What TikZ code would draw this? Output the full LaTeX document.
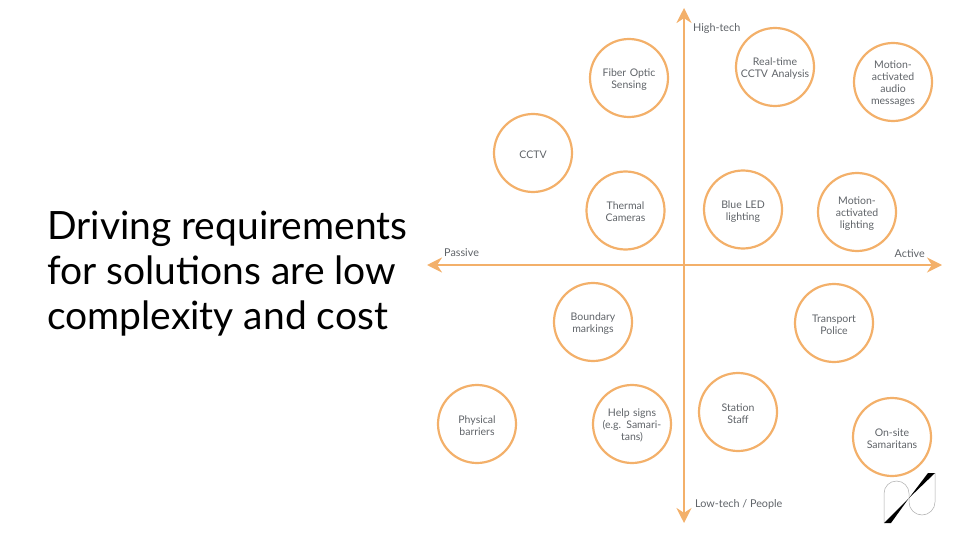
\documentclass[tikz,border=0pt]{standalone}
\usepackage{fontspec}
\setmainfont{Lato}
\usepackage{tikz}
\usetikzlibrary{arrows.meta, positioning}
\definecolor{brandorange}{RGB}{243, 176, 106}
\definecolor{labelgray}{RGB}{95, 99, 104}
\definecolor{logogray}{RGB}{170, 170, 170}

\begin{document}
\begin{tikzpicture}[
        x=1pt, y=-1pt,
        idea/.style={circle, draw=brandorange, line width=2.2pt, minimum size=78pt, inner sep=-8pt, text width=72pt, align=center, text=labelgray, font=\fontsize{10.5}{12}\selectfont, execute at begin node={\vskip -1pt}},
        axis/.style={-{Stealth[length=15pt, width=15pt]}, line width=2.2pt, draw=brandorange},
        axislabel/.style={text=labelgray, font=\fontsize{10.8}{12}\selectfont, inner sep=0pt}
    ]
        \useasboundingbox (0,0) rectangle (960,540);

        \node[anchor=west, align=left, inner sep=0pt, font=\fontsize{39}{45}\selectfont] (headline) at (47,274) {Driving requirements\\for solutions are low\\complexity and cost};

        % Axes
        \coordinate (origin) at (684,265);
        \coordinate (passive) at (427,265);
        \coordinate (active) at (942,265);
        \coordinate (hightech) at (684,8);
        \coordinate (lowtech) at (684,523);
        \draw[axis] (origin) -- (passive);
        \draw[axis] (origin) -- (active);
        \draw[axis] (origin) -- (hightech);
        \draw[axis] (origin) -- (lowtech);

        \node[axislabel, anchor=west] (passivelabel) at (444,253) {Passive};
        \node[axislabel, anchor=east] (activelabel) at (925,253.5) {Active};
        \node[axislabel, anchor=west] (hightechlabel) at (693,28.5) {High-tech};
        \node[axislabel, anchor=west] (lowtechlabel) at (695,504.5) {Low-tech / People};

        % Solutions
        \node[idea] (fiber) at (629,78) {Fiber Optic\\Sensing};
        \node[idea] (realtime) at (775,67) {Real-time\\CCTV Analysis};
        \node[idea] (audio) at (893,82) {Motion-\\activated\\audio\\messages};
        \node[idea] (cctv) at (533,153) {CCTV};
        \node[idea] (thermal) at (625.5,210.5) {Thermal\\Cameras};
        \node[idea] (blueled) at (743,209.5) {Blue LED\\lighting};
        \node[idea] (lighting) at (857,212) {Motion-\\activated\\lighting};
        \node[idea] (boundary) at (593,322) {Boundary\\markings};
        \node[idea] (transport) at (834,323) {Transport\\Police};
        \node[idea] (physical) at (477,424) {Physical\\barriers};
        \node[idea] (helpsigns) at (632,424) {Help signs\\(e.g. Samari-\\tans)};
        \node[idea] (station) at (738,412) {Station\\Staff};
        \node[idea] (onsite) at (892,437) {On-site\\Samaritans};

        % Logo
        \draw[logogray, line width=0.5pt] (884,523) -- (884,493.5) arc[start angle=180, end angle=360, radius=12.5] -- (909,498);
        \draw[logogray, line width=0.5pt] (909,498) -- (909,502) arc[start angle=180, end angle=0, radius=13] -- (935,473);
        \fill[black] (884,523) -- (891,523) -- (909,498) -- (935,473) -- (928,473) -- (909,498) -- cycle;
    \end{tikzpicture}
\end{document}
